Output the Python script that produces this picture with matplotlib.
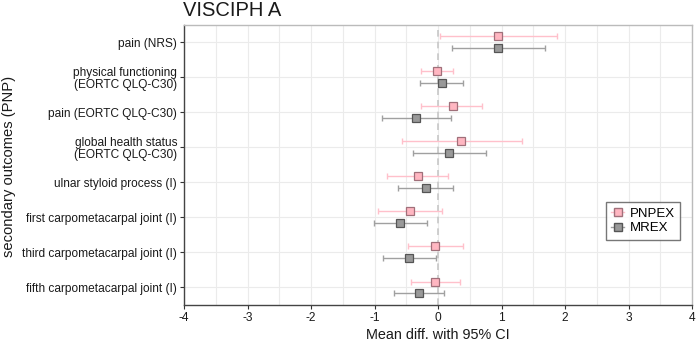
import matplotlib
matplotlib.use("Agg")
import matplotlib.pyplot as plt
import numpy as np
from matplotlib.lines import Line2D

plt.rcParams['font.family'] = ['Liberation Sans', 'DejaVu Sans']

categories = ["pain (NRS)", "physical functioning\n(EORTC QLQ-C30)", "pain (EORTC QLQ-C30)",
              "global health status\n(EORTC QLQ-C30)", "ulnar styloid process (I)",
              "first carpometacarpal joint (I)", "third carpometacarpal joint (I)",
              "fifth carpometacarpal joint (I)"]

pnpex_mean = [0.95, -0.02, 0.23, 0.37, -0.32, -0.44, -0.05, -0.05]
pnpex_low = [0.03, -0.27, -0.26, -0.57, -0.80, -0.94, -0.48, -0.43]
pnpex_high = [1.87, 0.23, 0.70, 1.32, 0.16, 0.06, 0.39, 0.34]

mrex_mean = [0.95, 0.06, -0.34, 0.18, -0.19, -0.60, -0.45, -0.30]
mrex_low = [0.22, -0.29, -0.88, -0.40, -0.63, -1.01, -0.86, -0.70]
mrex_high = [1.68, 0.40, 0.20, 0.75, 0.24, -0.17, -0.03, 0.10]

xticks = [-4, -3, -2, -1, 0, 1, 2, 3, 4]

W, H = 696, 342
fig = plt.figure(figsize=(W/100, H/100), dpi=100)
ax = fig.add_axes([184/W, 1-305/H, (692-184)/W, (305-24.7)/H])

n = len(categories)
ypos = np.arange(n)[::-1].astype(float)
off = 0.17

ax.set_xlim(-4, 4)
ax.set_ylim(-0.5, n - 0.5)

# grid
for x in np.arange(-4, 4.01, 0.5):
    ax.axvline(x, color='#ebebeb', lw=0.8, zorder=0)
for y in ypos:
    ax.axhline(y, color='#ebebeb', lw=0.8, zorder=0)
ax.axvline(0, color='#c8c8c8', lw=1.2, ls=(0, (4, 3)), zorder=1)

pink_line = '#ffc0cb'
pink_face = '#ffb6c1'
pink_edge = '#a0707a'
grey_line = '#a0a0a0'
grey_face = '#999999'
grey_edge = '#555555'

yp = ypos + off
ym = ypos - off
ax.errorbar(pnpex_mean, yp,
            xerr=[np.array(pnpex_mean) - np.array(pnpex_low), np.array(pnpex_high) - np.array(pnpex_mean)],
            fmt='none', ecolor=pink_line, elinewidth=1.0, capsize=2.5, capthick=1.0, zorder=2)
ax.errorbar(mrex_mean, ym,
            xerr=[np.array(mrex_mean) - np.array(mrex_low), np.array(mrex_high) - np.array(mrex_mean)],
            fmt='none', ecolor=grey_line, elinewidth=1.0, capsize=2.5, capthick=1.0, zorder=2)
ax.plot(pnpex_mean, yp, 's', ms=5.5, mfc=pink_face, mec=pink_edge, mew=0.9, ls='none', zorder=3)
ax.plot(mrex_mean, ym, 's', ms=5.5, mfc=grey_face, mec=grey_edge, mew=0.9, ls='none', zorder=3)

ax.set_yticks(ypos)
ax.set_yticklabels(categories, fontsize=8.6, color='#1a1a1a', linespacing=1.0)
ax.set_xticks(xticks)
ax.set_xticklabels([str(v) for v in xticks], fontsize=8.6, color='#1a1a1a')
ax.tick_params(axis='both', length=3, width=0.8, color='#333333', pad=2)

for s in ['top', 'right']:
    ax.spines[s].set_color('#bbbbbb')
    ax.spines[s].set_linewidth(1.0)
for s in ['left', 'bottom']:
    ax.spines[s].set_color('#444444')
    ax.spines[s].set_linewidth(1.0)

fig.text(438/W, 1-339/H, "Mean diff. with 95% CI", fontsize=10.4, color='#1a1a1a',
         ha='center', va='baseline')
fig.text(9/W, 1-166/H, "secondary outcomes (PNP)", fontsize=10.6, color='#1a1a1a',
         ha='center', va='center', rotation=90)
fig.text(183/W, 1-10/H, "VISCIPH A", fontsize=14.5, ha='left', va='center', color='#1a1a1a')

handles = [Line2D([0], [0], color=pink_line, marker='s', ms=5.5, mfc=pink_face, mec=pink_edge, lw=1.0),
           Line2D([0], [0], color=grey_line, marker='s', ms=5.5, mfc=grey_face, mec=grey_edge, lw=1.0)]
leg = ax.legend(handles, ["PNPEX", "MREX"], loc='center right', bbox_to_anchor=(0.976, 0.30),
                fontsize=9.5, frameon=True, fancybox=False, handlelength=1.0, handletextpad=0.4,
                borderpad=0.4, labelspacing=0.2, borderaxespad=0)
leg.get_frame().set_edgecolor('#555555')
leg.get_frame().set_linewidth(1.0)

fig.savefig("out.png", dpi=100)
